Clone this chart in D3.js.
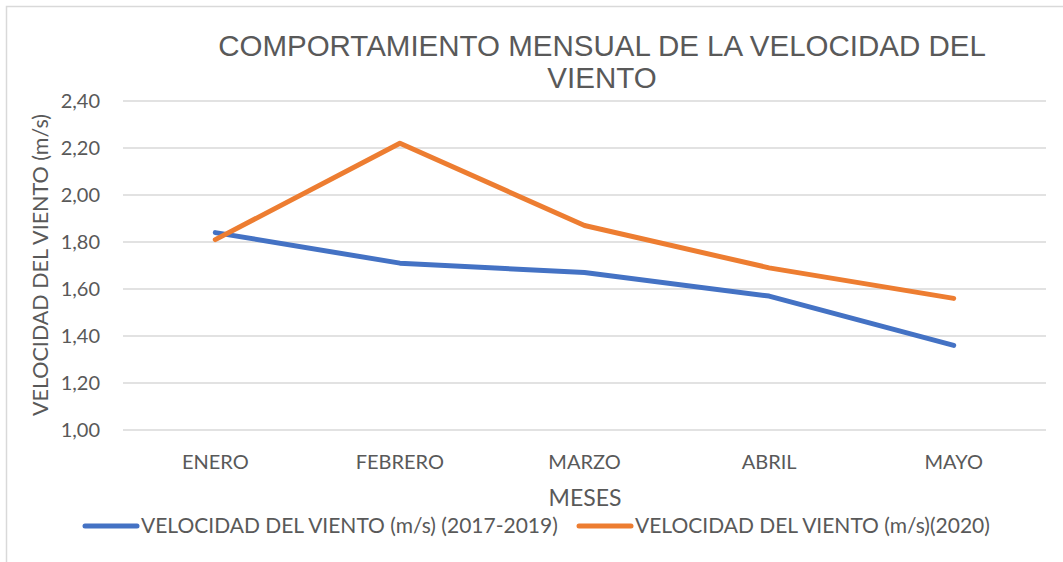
<!DOCTYPE html>
<html lang="es">
<head>
  <meta charset="UTF-8">
  <title>Comportamiento mensual de la velocidad del viento</title>
  <script src="https://d3js.org/d3.v7.min.js"></script>
</head>
<body style="margin: 0; background: #fff;">
<svg id="chart" width="1063" height="562"></svg>
<script>
  // data
  const months = ["ENERO", "FEBRERO", "MARZO", "ABRIL", "MAYO"];
  const viento2017_2019 = [1.84, 1.71, 1.67, 1.57, 1.36];
  const viento2020 = [1.81, 2.22, 1.87, 1.69, 1.56];
  const yTicks = [1.0, 1.2, 1.4, 1.6, 1.8, 2.0, 2.2, 2.4];
  const seriesNames = ["VELOCIDAD DEL VIENTO (m/s) (2017-2019)", "VELOCIDAD DEL VIENTO (m/s)(2020)"];
  const colors = ["#4472c4", "#ed7d31"];

  const textColor = "#595959";
  const bodyFont = "Lato, 'Open Sans', sans-serif";

  const svg = d3.select("#chart");

  // outer chart border
  svg.append("rect")
    .attr("x", 6.5).attr("y", 6.5)
    .attr("width", 1100).attr("height", 600)
    .attr("fill", "none")
    .attr("stroke", "#d9d9d9")
    .attr("stroke-width", 1.5);

  const plot = { left: 123, right: 1046, top: 101, bottom: 430 };

  const x = d3.scaleBand().domain(months).range([plot.left, plot.right]);
  const y = d3.scaleLinear().domain([1.0, 2.4]).range([plot.bottom, plot.top]);

  const fmt = v => d3.format(".2f")(v).replace(".", ",");

  // gridlines
  svg.append("g")
    .selectAll("line")
    .data(yTicks)
    .join("line")
    .attr("x1", plot.left).attr("x2", plot.right)
    .attr("y1", d => y(d)).attr("y2", d => y(d))
    .attr("stroke", "#d9d9d9")
    .attr("stroke-width", 1.5);

  // y tick labels
  svg.append("g")
    .selectAll("text")
    .data(yTicks)
    .join("text")
    .attr("x", 100)
    .attr("y", d => y(d))
    .attr("dy", "0.35em")
    .attr("text-anchor", "end")
    .attr("fill", textColor)
    .style("font-family", bodyFont)
    .style("font-size", "20px")
    .text(fmt);

  // x tick labels
  svg.append("g")
    .selectAll("text")
    .data(months)
    .join("text")
    .attr("x", d => x(d) + x.bandwidth() / 2)
    .attr("y", 462)
    .attr("dy", "0.35em")
    .attr("text-anchor", "middle")
    .attr("fill", textColor)
    .style("font-family", bodyFont)
    .style("font-size", "20px")
    .text(d => d);

  // title
  const title = svg.append("text")
    .attr("text-anchor", "middle")
    .attr("fill", textColor)
    .style("font-family", "'Liberation Sans', Arial, sans-serif")
    .style("font-size", "29.5px");
  title.append("tspan").attr("x", 602).attr("y", 56).text("COMPORTAMIENTO MENSUAL DE LA VELOCIDAD DEL");
  title.append("tspan").attr("x", 602).attr("y", 88).text("VIENTO");

  // axis titles
  svg.append("text")
    .attr("transform", "translate(40,265) rotate(-90)")
    .attr("dy", "0.35em")
    .attr("text-anchor", "middle")
    .attr("fill", textColor)
    .style("font-family", bodyFont)
    .style("font-size", "21.5px")
    .text("VELOCIDAD DEL VIENTO (m/s)");

  svg.append("text")
    .attr("x", 585)
    .attr("y", 498)
    .attr("dy", "0.35em")
    .attr("text-anchor", "middle")
    .attr("fill", textColor)
    .style("font-family", bodyFont)
    .style("font-size", "23px")
    .text("MESES");

  // lines
  const line = d3.line()
    .x((d, i) => x(months[i]) + x.bandwidth() / 2)
    .y(d => y(d));

  [viento2017_2019, viento2020].forEach((values, i) => {
    svg.append("path")
      .datum(values)
      .attr("fill", "none")
      .attr("stroke", colors[i])
      .attr("stroke-width", 5)
      .attr("stroke-linecap", "round")
      .attr("stroke-linejoin", "round")
      .attr("d", line);
  });

  // legend
  const legendX = [85, 579];
  const legend = svg.append("g")
    .selectAll("g")
    .data(seriesNames)
    .join("g")
    .attr("transform", (d, i) => `translate(${legendX[i]},526)`);

  legend.append("line")
    .attr("x1", 0).attr("x2", 52)
    .attr("stroke", (d, i) => colors[i])
    .attr("stroke-width", 5)
    .attr("stroke-linecap", "round");

  legend.append("text")
    .attr("x", 56)
    .attr("dy", "0.35em")
    .attr("fill", textColor)
    .style("font-family", bodyFont)
    .style("font-size", "21px")
    .text(d => d);
</script>
</body>
</html>
